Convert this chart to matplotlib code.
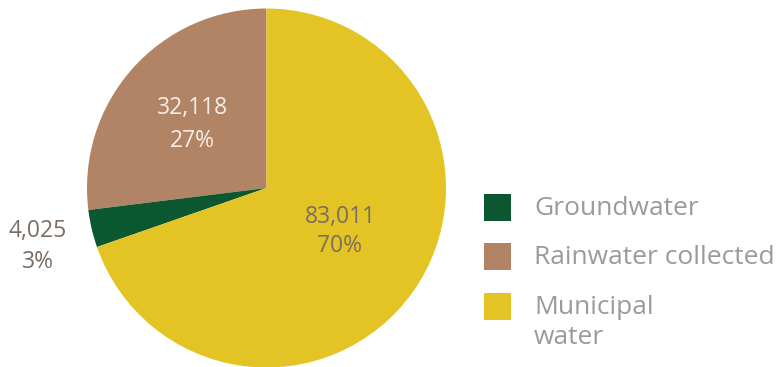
import matplotlib.pyplot as plt
from matplotlib.patches import Rectangle

# water sources, counter-clockwise from 12 o'clock
sources = ["Rainwater collected", "Groundwater", "Municipal\nwater"]
volumes = [32118, 4025, 83011]
colors = ["#B28466", "#0B5730", "#E3C424"]

# legend order
legend_order = [1, 0, 2]

plt.rcParams['font.family'] = ['Open Sans', 'DejaVu Sans']

W, H = 781, 367
fig = plt.figure(figsize=(W / 100, H / 100), dpi=100)
ax = fig.add_axes([0, 0, 1, 1])

cx, cy, r = 266.5, H - 188, 179.5
wedges, _ = ax.pie(volumes, colors=colors, startangle=90, counterclock=True,
                   center=(cx, cy), radius=r, wedgeprops={'linewidth': 0})

total = sum(volumes)

# value + share labels (x, y of the value line, spacing to the share line)
label_pos = [(192, 108, 33), (38, 231, 31), (340, 217, 29)]
label_col = ["#F6EEE6", "#7A6E62", "#7A6E62"]
for i, v in enumerate(volumes):
    x, y, gap = label_pos[i]
    ax.text(x, H - y, f"{v:,}", color=label_col[i], fontsize=16.5, ha='center', va='center')
    ax.text(x, H - y - gap, f"{round(100 * v / total)}%", color=label_col[i],
            fontsize=16.5, ha='center', va='center')

# legend
sq = 27
rows_y = [194, 243, 293]
for row, i in enumerate(legend_order):
    y0 = rows_y[row]
    ax.add_patch(Rectangle((484, H - y0 - sq), sq, sq, color=colors[i], lw=0))
    for k, line in enumerate(sources[i].split('\n')):
        ax.text(534, H - y0 - sq / 2 - 1 - 30 * k, line, color="#9A9A9A", fontsize=19,
                ha='left', va='center')

ax.set_xlim(0, W)
ax.set_ylim(0, H)
ax.set_aspect('auto')
ax.axis('off')

fig.savefig("out.png", dpi=100)
